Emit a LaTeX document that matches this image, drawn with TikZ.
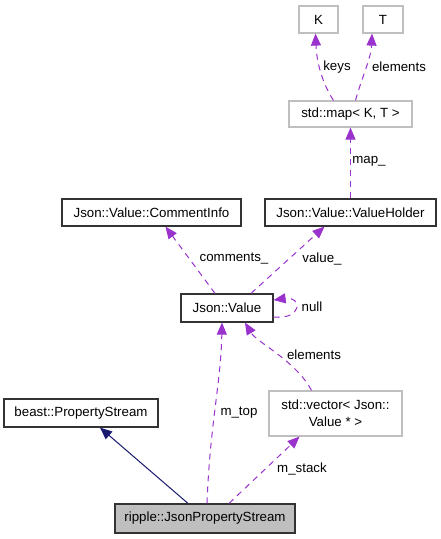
\documentclass[tikz,border=0pt]{standalone}
\usepackage{fontspec}
\setmainfont{Liberation Sans}
\usetikzlibrary{arrows.meta,calc}
\definecolor{edgepurple}{HTML}{9A32CD}
\definecolor{navyedge}{HTML}{191970}
\definecolor{lightframe}{HTML}{BFBFBF}
\definecolor{graybg}{HTML}{BFBFBF}
\begin{document}
\begin{tikzpicture}[x=1pt,y=-1pt,
  font=\fontsize{13.3}{17}\selectfont,
  box/.style={draw=black!80, line width=1.2pt, inner sep=0pt, minimum height=27pt, align=center, fill=white},
  lbox/.style={box, draw=lightframe},
  usage/.style={draw=edgepurple, dash pattern=on 6pt off 5pt, line width=1pt, -{Triangle[length=12pt,width=10pt,fill=edgepurple]}},
  inherit/.style={draw=navyedge, line width=1pt, -{Triangle[length=12pt,width=10pt,fill=navyedge]}},
  elabel/.style={inner sep=0pt, anchor=center}]
\useasboundingbox (0,0) rectangle (441,539);
\fill[white] (0,0) rectangle (441,539);

\node[lbox, minimum width=39pt] (K) at (318.5,19.5) {K};
\node[lbox, minimum width=40pt] (T) at (383,19.5) {T};
\node[lbox, minimum width=123pt, minimum height=26pt] (map) at (350.5,114) {std::map< K, T >};
\node[box, minimum width=179pt] (CI) at (151.5,212.5) {Json::Value::CommentInfo};
\node[box, minimum width=171pt] (VH) at (350.5,212.5) {Json::Value::ValueHolder};
\node[box, minimum width=92pt, minimum height=28pt] (JV) at (227,308) {Json::Value};
\node[box, minimum width=154pt, minimum height=28pt] (beast) at (81,413) {beast::PropertyStream};
\node[lbox, minimum width=133pt, minimum height=45pt] (vec) at (335.5,413.5) {std::vector< Json::\\Value * >};
\node[box, fill=graybg, minimum width=180pt, minimum height=29pt] (rip) at (205,518.5) {ripple::JsonPropertyStream};

% edges
\draw[usage] ($(map.north)+(-17,0)$) .. controls ($(map.north)+(-30,-20)$) and ($(K.south)+(-2,25)$) .. ($(K.south)+(-3,0)$);
\draw[usage] ($(map.north)+(5,0)$) .. controls ($(map.north)+(12,-25)$) and ($(T.south)+(-12,25)$) .. ($(T.south)+(-11,0)$);
\draw[usage] (VH.north) -- (map.south);
\draw[usage] ($(JV.north)+(-12,0)$) -- ($(CI.south)+(14,0)$);
\draw[usage] ($(JV.north)+(24,0)$) -- ($(VH.south)+(-26,0)$);
\draw[usage] ($(JV.east)+(0,9)$) .. controls ($(JV.east)+(29,12)$) and ($(JV.east)+(29,-12)$) .. ($(JV.east)+(0,-8)$);
\draw[usage] ($(vec.north)+(-24,0)$) .. controls ($(vec.north)+(-40,-30)$) and ($(JV.south)+(30,20)$) .. ($(JV.south)+(18,0)$);
\draw[usage] ($(rip.north)+(2,0)$) .. controls ($(rip.north)+(5,-80)$) and ($(JV.south)+(-6,60)$) .. ($(JV.south)+(-5,0)$);
\draw[usage] ($(rip.north)+(24,0)$) -- ($(vec.south)+(-36,0)$);
\draw[inherit] ($(rip.north)+(-17,0)$) -- ($(beast.south)+(19,0)$);

% labels
\node[elabel] (lkeys) at (337,67) {keys};
\node[elabel] (lelem1) at (399,67) {elements};
\node[elabel] (lmap) at (369,161) {map\_};
\node[elabel] (lcom) at (234,259) {comments\_};
\node[elabel] (lval) at (322,259) {value\_};
\node[elabel] (lnull) at (312,307) {null};
\node[elabel] (lelem2) at (314,355) {elements};
\node[elabel] (ltop) at (239,413) {m\_top};
\node[elabel] (lstack) at (302,469) {m\_stack};
\end{tikzpicture}
\end{document}
